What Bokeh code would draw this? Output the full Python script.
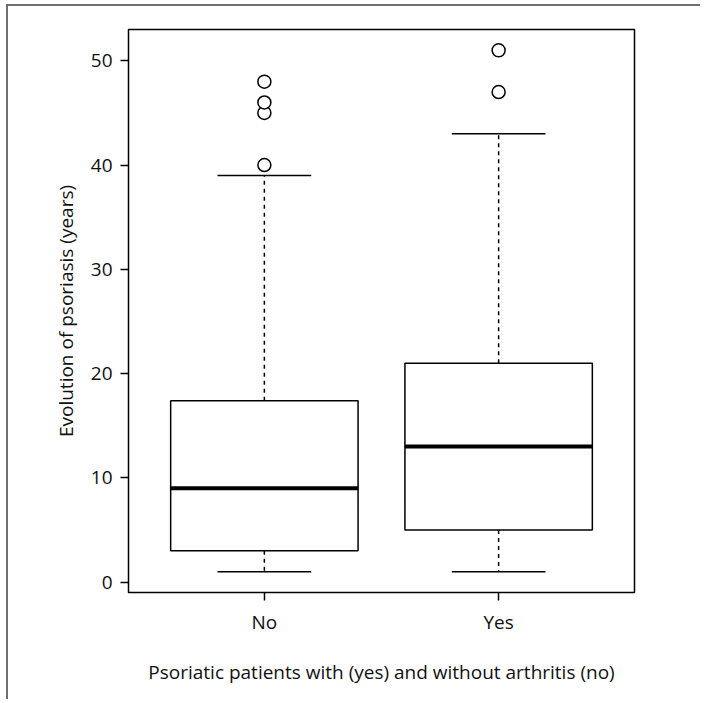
from bokeh.plotting import figure
from bokeh.models import Range1d, FixedTicker, ColumnDataSource
from bokeh.embed import file_html
from bokeh.resources import INLINE

# ---- data ----
categories = ["No", "Yes"]
lower_whisker = [1, 1]
q1 = [3, 5]
median = [9, 13]
q3 = [17.4, 21]
upper_whisker = [39, 43]
outliers_no = [40, 45, 46, 48]
outliers_yes = [47, 51]
y_ticks = [0, 10, 20, 30, 40, 50]

FONT = "Open Sans"
TXT = "#111111"

positions = [i + 1 for i in range(len(categories))]
half_box = 0.4
half_cap = 0.2

p = figure(width=694, height=695, output_backend="svg", toolbar_location=None,
           x_range=Range1d(0.42, 2.58), y_range=Range1d(-1, 53),
           min_border_left=120, min_border_right=68,
           min_border_top=23, min_border_bottom=109)
p.background_fill_color = "white"
p.border_fill_color = "white"
p.xgrid.visible = False
p.ygrid.visible = False
p.outline_line_color = "black"
p.outline_line_width = 1.5
p.styles = {"margin-left": "6px", "margin-top": "4px",
            "border-left": "2px solid #707070", "border-top": "2px solid #707070"}

box_src = ColumnDataSource(dict(
    x=positions,
    left=[x - half_box for x in positions],
    right=[x + half_box for x in positions],
    cl=[x - half_cap for x in positions],
    cr=[x + half_cap for x in positions],
    lw=lower_whisker, q1=q1, med=median, q3=q3, uw=upper_whisker,
))

# whiskers (dashed)
p.segment(x0="x", y0="q3", x1="x", y1="uw", source=box_src,
          line_color="black", line_width=1.5, line_dash="4 4")
p.segment(x0="x", y0="q1", x1="x", y1="lw", source=box_src,
          line_color="black", line_width=1.5, line_dash="4 4")
# caps
p.segment(x0="cl", y0="uw", x1="cr", y1="uw", source=box_src,
          line_color="black", line_width=1.5)
p.segment(x0="cl", y0="lw", x1="cr", y1="lw", source=box_src,
          line_color="black", line_width=1.5)
# boxes
p.quad(left="left", right="right", bottom="q1", top="q3", source=box_src,
       fill_color="white", line_color="black", line_width=1.5)
# medians
p.segment(x0="left", y0="med", x1="right", y1="med", source=box_src,
          line_color="black", line_width=4)

# outliers
out_x = [positions[0]] * len(outliers_no) + [positions[1]] * len(outliers_yes)
out_y = outliers_no + outliers_yes
p.scatter(out_x, out_y, marker="circle", size=13, fill_color="white",
          line_color="black", line_width=1.5)

# axes
for ax in (p.xaxis[0], p.yaxis[0]):
    ax.axis_line_color = None
    ax.major_tick_in = 0
    ax.major_tick_out = 8
    ax.major_tick_line_width = 1.5
    ax.major_tick_line_color = "black"
    ax.minor_tick_line_color = None
    ax.major_label_text_font = FONT
    ax.major_label_text_font_size = "19px"
    ax.major_label_text_color = TXT
    ax.axis_label_text_font = FONT
    ax.axis_label_text_font_size = "19px"
    ax.axis_label_text_font_style = "normal"
    ax.axis_label_text_color = TXT

p.xaxis.ticker = FixedTicker(ticks=positions)
p.xaxis.major_label_overrides = {pos: c for pos, c in zip(positions, categories)}
p.xaxis.axis_label = "Psoriatic patients with (yes) and without arthritis (no)"
p.xaxis.major_label_standoff = 8
p.xaxis.axis_label_standoff = 21

p.yaxis.ticker = FixedTicker(ticks=y_ticks)
p.yaxis.major_label_orientation = "horizontal"
p.yaxis.axis_label = "Evolution of psoriasis (years)"
p.yaxis.major_label_standoff = 8
p.yaxis.axis_label_standoff = 9

open("out.html", "w").write(file_html(p, INLINE))
